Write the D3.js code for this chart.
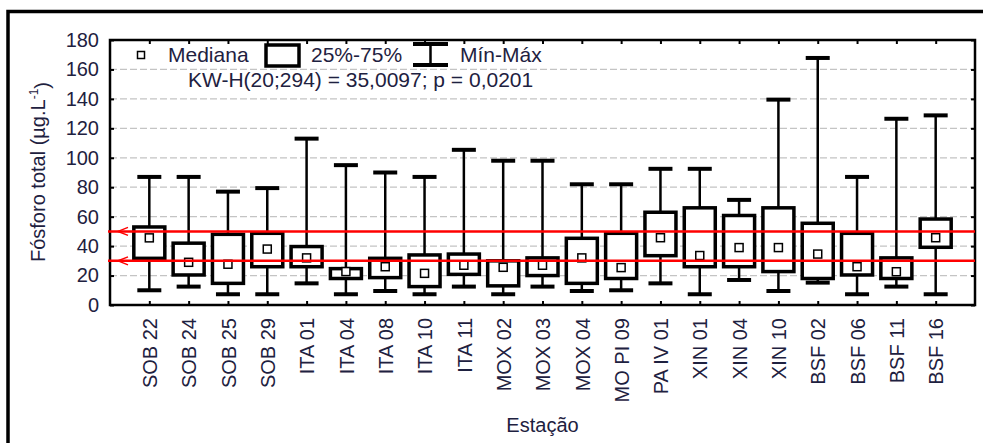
<!DOCTYPE html>
<html lang="pt">

<head>
    <meta charset="UTF-8">
    <title>Fósforo total por estação</title>
    <style>
        body {
            margin: 0;
            padding: 0;
            overflow: hidden;
            background-color: #ffffff;
        }

        svg {
            display: block;
            font-family: "Liberation Sans", Arial, sans-serif;
        }
    </style>
</head>

<body>
    <script src="https://d3js.org/d3.v7.min.js"></script>
    <script>
        const width = 983;
        const height = 443;

        // values
        const stations = ["SOB 22", "SOB 24", "SOB 25", "SOB 29", "ITA 01", "ITA 04", "ITA 08", "ITA 10", "ITA 11",
            "MOX 02", "MOX 03", "MOX 04", "MO PI 09", "PA IV 01", "XIN 01", "XIN 04", "XIN 10",
            "BSF 02", "BSF 06", "BSF 11", "BSF 16"];
        const minVals = [10, 12.5, 7.3, 7.3, 14.7, 7.3, 9.5, 7.3, 12.5, 7.3, 12.5, 9.5, 10, 14.7, 7.3, 17, 9.5, 15.2, 7.3, 12.5, 7.3];
        const q1Vals = [31.7, 20.4, 14.7, 26, 26, 18, 18.6, 12.5, 20.8, 13, 20, 14.7, 18, 33.5, 26, 26, 22.7, 18, 20.4, 18, 39.2];
        const medianVals = [45.6, 29, 27.7, 38, 32, 22.7, 26, 21.5, 27, 25.6, 27, 32, 25.4, 45.7, 33.6, 39, 39, 34.6, 26, 22.6, 45.7];
        const q3Vals = [53, 42, 48, 48.7, 39.7, 24.7, 31.7, 34, 34.6, 30, 32, 45.3, 48.7, 63, 66, 60.8, 66, 55.5, 48.7, 32, 58.4];
        const maxVals = [87, 87, 77, 79.4, 113, 95, 90, 87, 105.4, 98, 98, 82, 82, 92.5, 92.5, 71.4, 139.5, 167.8, 87, 126.5, 128.8];
        const yTicks = [0, 20, 40, 60, 80, 100, 120, 140, 160, 180];
        const limits = [50, 30];

        const textColor = "#1e2140";
        const plot = { left: 110, right: 975, top: 40, bottom: 305 };

        const boxes = stations.map((s, i) => ({
            name: s, min: minVals[i], q1: q1Vals[i], median: medianVals[i], q3: q3Vals[i], max: maxVals[i]
        }));

        const svg = d3.select('body')
            .append('svg')
            .attr('width', width)
            .attr('height', height);

        const x = d3.scalePoint()
            .domain(stations)
            .range([plot.left, plot.right])
            .padding(1);

        const y = d3.scaleLinear()
            .domain([0, 180])
            .range([plot.bottom, plot.top]);

        // outer frame (runs off the picture on right and bottom)
        svg.append('path')
            .attr('d', `M8,${height + 5}L8,11.5L${width + 5},11.5`)
            .attr('fill', 'none')
            .attr('stroke', 'black')
            .attr('stroke-width', 3.5);

        // grid
        svg.append('g')
            .selectAll('line')
            .data(yTicks.filter(d => d > 0 && d < 180))
            .enter()
            .append('line')
            .attr('x1', plot.left)
            .attr('x2', plot.right)
            .attr('y1', d => y(d))
            .attr('y2', d => y(d))
            .attr('stroke', '#c4c4c4')
            .attr('stroke-width', 1.3)
            .attr('stroke-dasharray', '7,3');

        // axes, ticks pointing inwards
        const styleAxis = g => {
            g.select('.domain').remove();
            g.selectAll('.tick line').attr('stroke', 'black').attr('stroke-width', 2);
            g.selectAll('text').attr('fill', textColor).style('font-size', '20px');
        };

        svg.append('g')
            .attr('transform', `translate(${plot.left},0)`)
            .call(d3.axisLeft(y).tickValues(yTicks).tickSize(-4).tickPadding(11))
            .call(styleAxis);

        svg.append('g')
            .attr('transform', `translate(${plot.right},0)`)
            .call(d3.axisRight(y).tickValues(yTicks).tickSize(-4).tickFormat(''))
            .call(styleAxis);

        svg.append('g')
            .attr('transform', `translate(0,${plot.top})`)
            .call(d3.axisTop(x).tickSize(-4).tickFormat(''))
            .call(styleAxis);

        svg.append('g')
            .attr('transform', `translate(0,${plot.bottom})`)
            .call(d3.axisBottom(x).tickSize(-4))
            .call(styleAxis)
            .selectAll('text')
            .attr('y', 0)
            .attr('x', -13)
            .attr('dy', '0.36em')
            .attr('transform', 'rotate(-90)')
            .attr('text-anchor', 'end');

        // box plots
        const capW = 24;
        const boxW = 31;
        const g = svg.append('g');

        g.selectAll('.whisker')
            .data(boxes)
            .enter()
            .append('line')
            .attr('x1', d => x(d.name))
            .attr('x2', d => x(d.name))
            .attr('y1', d => y(d.min))
            .attr('y2', d => y(d.max))
            .attr('stroke', 'black')
            .attr('stroke-width', 2.5);

        ['min', 'max'].forEach(k => {
            g.selectAll('.cap-' + k)
                .data(boxes)
                .enter()
                .append('line')
                .attr('x1', d => x(d.name) - capW / 2)
                .attr('x2', d => x(d.name) + capW / 2)
                .attr('y1', d => y(d[k]))
                .attr('y2', d => y(d[k]))
                .attr('stroke', 'black')
                .attr('stroke-width', 4);
        });

        g.selectAll('.box')
            .data(boxes)
            .enter()
            .append('rect')
            .attr('x', d => x(d.name) - boxW / 2)
            .attr('width', boxW)
            .attr('y', d => y(d.q3))
            .attr('height', d => y(d.q1) - y(d.q3))
            .attr('fill', 'white')
            .attr('stroke', 'black')
            .attr('stroke-width', 3.5);

        g.selectAll('.median')
            .data(boxes)
            .enter()
            .append('rect')
            .attr('x', d => x(d.name) - 4)
            .attr('y', d => y(d.median) - 4)
            .attr('width', 8)
            .attr('height', 8)
            .attr('fill', 'white')
            .attr('stroke', 'black')
            .attr('stroke-width', 1.5);

        // plot frame
        svg.append('rect')
            .attr('x', plot.left)
            .attr('y', plot.top)
            .attr('width', plot.right - plot.left)
            .attr('height', plot.bottom - plot.top)
            .attr('fill', 'none')
            .attr('stroke', 'black')
            .attr('stroke-width', 2.5);

        // red reference lines with arrows
        const red = svg.append('g');
        red.selectAll('line')
            .data(limits)
            .enter()
            .append('line')
            .attr('x1', plot.left - 2)
            .attr('x2', plot.right)
            .attr('y1', d => y(d))
            .attr('y2', d => y(d))
            .attr('stroke', '#ff0000')
            .attr('stroke-width', 2.5);

        red.selectAll('path')
            .data(limits)
            .enter()
            .append('path')
            .attr('d', d => `M${plot.left + 18},${y(d) - 4}L${plot.left + 8},${y(d)}L${plot.left + 18},${y(d) + 4}`)
            .attr('fill', 'none')
            .attr('stroke', '#ff0000')
            .attr('stroke-width', 1.5);

        // legend
        const leg = svg.append('g');
        leg.append('rect')
            .attr('x', 137.5).attr('y', 51.5).attr('width', 7).attr('height', 7)
            .attr('fill', 'white').attr('stroke', 'black').attr('stroke-width', 1.5);
        leg.append('rect')
            .attr('x', 266).attr('y', 45).attr('width', 33).attr('height', 21)
            .attr('fill', 'white').attr('stroke', 'black').attr('stroke-width', 3.5);
        leg.append('line')
            .attr('x1', 430.5).attr('x2', 430.5).attr('y1', 44).attr('y2', 65)
            .attr('stroke', 'black').attr('stroke-width', 2.5);
        [44, 65].forEach(v => {
            leg.append('line')
                .attr('x1', 413).attr('x2', 448).attr('y1', v).attr('y2', v)
                .attr('stroke', 'black').attr('stroke-width', 4);
        });

        const legText = [
            { t: 'Mediana', x: 168, y: 62 },
            { t: '25%-75%', x: 311, y: 62 },
            { t: 'Mín-Máx', x: 460, y: 62 },
            { t: 'KW-H(20;294) = 35,0097; p = 0,0201', x: 188, y: 87 }
        ];
        leg.selectAll('text')
            .data(legText)
            .enter()
            .append('text')
            .attr('x', d => d.x)
            .attr('y', d => d.y)
            .attr('fill', textColor)
            .style('font-size', '21px')
            .text(d => d.t);

        // axis titles
        svg.append('text')
            .attr('x', (plot.left + plot.right) / 2)
            .attr('y', 432)
            .attr('text-anchor', 'middle')
            .attr('fill', textColor)
            .style('font-size', '20px')
            .text('Estação');

        const yTitle = svg.append('text')
            .attr('transform', 'translate(45,172) rotate(-90)')
            .attr('text-anchor', 'middle')
            .attr('fill', textColor)
            .style('font-size', '20px');
        yTitle.append('tspan').text('Fósforo total (µg.L');
        yTitle.append('tspan').attr('dy', '-0.55em').style('font-size', '12px').text('-1');
        yTitle.append('tspan').attr('dy', '0.55em').text(')');
    </script>
</body>

</html>
